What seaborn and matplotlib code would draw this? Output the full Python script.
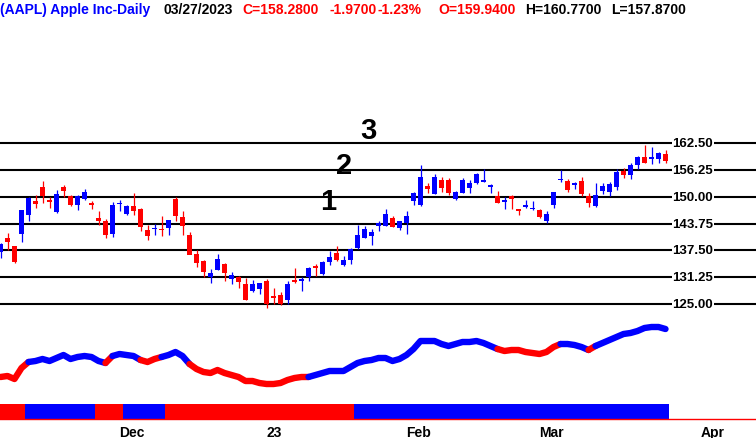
import matplotlib
matplotlib.use("Agg")
import matplotlib.pyplot as plt
import seaborn as sns
import pandas as pd

# AAPL daily bars, 2022-11-07 .. 2023-03-27
opens = [137.11, 140.41, 138.50, 141.24, 145.82, 148.97, 152.22, 149.13, 146.43, 152.31, 150.16, 148.13, 149.45, 148.31, 145.14, 144.29, 141.40,
         148.21, 145.96, 147.77, 147.07, 142.19, 142.36, 142.34, 142.70, 149.50, 145.35, 141.11, 136.69, 135.11, 131.39, 132.98, 134.35, 130.92, 131.38, 129.67, 127.99, 128.41,
         130.28, 126.89, 127.13, 126.01, 130.47, 130.26, 131.25, 133.88, 132.03, 134.83, 136.82, 134.08, 135.28, 138.12, 140.31, 140.89, 143.17, 143.16, 144.96, 142.70,
         143.97, 148.90, 148.03, 152.57, 150.64, 153.88, 153.78, 149.46, 150.95, 152.12, 153.11, 153.51, 152.35, 150.20, 148.87, 150.09, 147.11, 147.71, 147.05,
         146.83, 144.38, 148.04, 153.79, 153.70, 152.81, 153.56, 150.21, 147.81, 151.28, 151.19, 152.16, 156.08, 155.07, 157.32, 159.30, 158.83, 158.86, 159.94]
highs = [139.15, 141.43, 138.55, 146.87, 150.01, 150.28, 153.59, 149.87, 151.48, 152.70, 150.37, 150.42, 151.83, 148.88, 146.64, 144.81, 148.72,
         149.13, 148.00, 150.92, 147.30, 143.37, 143.52, 145.57, 144.50, 149.97, 146.66, 141.79, 137.65, 135.20, 133.25, 136.63, 134.56, 132.42, 131.41, 131.03, 130.48, 129.95,
         130.90, 128.66, 127.77, 130.29, 133.41, 131.26, 133.51, 134.26, 134.92, 137.29, 138.61, 136.25, 138.02, 143.32, 143.16, 142.43, 144.25, 147.23, 145.55, 144.34,
         146.61, 151.18, 157.38, 153.10, 155.23, 154.58, 154.33, 151.34, 154.26, 153.77, 155.50, 156.33, 153.00, 151.30, 149.95, 150.34, 147.19, 149.17, 149.08,
         147.23, 146.71, 151.11, 156.30, 154.03, 153.47, 154.54, 150.94, 153.14, 153.14, 153.47, 156.46, 156.74, 157.82, 159.40, 162.14, 161.55, 160.34, 160.77]
lows = [135.67, 137.49, 134.59, 139.50, 144.37, 147.43, 148.56, 147.29, 146.15, 149.97, 147.72, 146.93, 149.34, 147.12, 143.38, 140.35, 140.55,
        146.61, 145.65, 145.77, 141.92, 140.00, 141.10, 140.90, 141.06, 144.24, 141.16, 136.60, 133.73, 131.32, 129.89, 132.86, 130.30, 129.64, 128.72, 125.87, 127.73, 127.43,
        124.17, 125.08, 124.76, 124.89, 129.89, 128.12, 130.46, 131.44, 131.66, 134.13, 135.03, 133.77, 134.22, 137.90, 140.30, 138.81, 141.90, 143.08, 142.85, 142.28,
        141.32, 148.17, 147.83, 150.78, 150.64, 151.17, 150.42, 149.22, 150.92, 150.86, 152.88, 153.35, 150.85, 148.41, 147.16, 147.24, 145.72, 147.45, 146.83,
        145.01, 143.90, 147.33, 153.46, 151.13, 151.83, 150.23, 147.61, 147.70, 150.72, 150.10, 151.64, 154.28, 154.15, 156.54, 157.81, 157.68, 157.85, 157.87]
closes = [138.92, 139.50, 134.87, 146.87, 149.70, 148.28, 150.04, 148.79, 150.72, 151.29, 148.01, 150.18, 151.07, 148.11, 144.22, 141.17, 148.03,
          148.31, 147.81, 146.63, 142.91, 140.94, 142.65, 142.16, 144.49, 145.47, 143.21, 136.50, 134.51, 132.37, 132.30, 135.45, 132.23, 131.86, 130.03, 126.04, 129.61, 129.93,
          125.07, 126.36, 125.02, 129.62, 130.15, 130.73, 133.49, 133.41, 134.76, 135.94, 135.21, 135.27, 137.87, 141.11, 142.53, 141.86, 143.96, 145.93, 143.00, 144.29,
          145.43, 150.82, 154.50, 151.73, 154.65, 151.92, 150.87, 151.01, 153.85, 153.20, 155.33, 153.71, 152.55, 148.48, 148.91, 149.40, 146.71, 147.92, 147.41,
          145.31, 145.91, 151.03, 153.83, 151.60, 152.87, 150.59, 148.50, 150.47, 152.59, 152.99, 155.85, 155.00, 157.40, 159.28, 157.83, 158.93, 160.25, 158.28]

holidays = ["2022-11-24", "2022-12-26", "2023-01-02", "2023-01-16", "2023-02-20"]

# lower indicator line and its colour runs
trend = [22, 23, 20, 31, 37, 38, 40, 38, 41, 44,
         40, 42, 43, 42, 38, 36, 43, 45, 44, 43,
         39, 37, 40, 42, 44, 47, 43, 35, 30, 27,
         26, 29, 26, 24, 22, 18, 18, 16, 15, 15,
         16, 19, 21, 22, 22, 24, 26, 28, 28, 28,
         32, 36, 38, 39, 41, 41, 38, 40, 44, 50,
         58, 58, 58, 55, 53, 55, 57, 57, 58, 56,
         53, 50, 48, 49, 49, 47, 46, 45, 47, 52,
         55, 55, 54, 52, 49, 53, 56, 59, 62, 65,
         66, 68, 71, 72, 72, 70]
trend_runs = [("r", 4), ("b", 11), ("r", 1), ("b", 4), ("r", 3), ("b", 4),
              ("r", 17), ("b", 27), ("r", 9), ("b", 4), ("r", 1), ("b", 11)]
regime_runs = [("r", 4), ("b", 10), ("r", 4), ("b", 6), ("r", 27), ("b", 45)]

price_levels = [125.0, 131.25, 137.5, 143.75, 150.0, 156.25, 162.5]
wave_labels = ["1", "2", "3"]

header = [("(AAPL) Apple Inc-Daily", "b"), ("03/27/2023", "k"),
          ("C=158.2800", "r"), ("-1.9700", "r"), ("-1.23%", "r"),
          ("O=159.9400", "r"), ("H=160.7700", "k"), ("L=157.8700", "k")]

RED, BLUE = "#ff0000", "#0000ff"
cmap = {"r": RED, "b": BLUE, "k": "black"}

sns.set_style("white")
plt.rcParams['font.family'] = ['Liberation Sans', 'DejaVu Sans']
plt.rcParams['text.color'] = 'black'

# trading calendar (history skips holidays, future just business days)
days = pd.bdate_range("2022-11-07", "2023-04-14")
days = days[~days.isin(pd.to_datetime(holidays))]
n = len(closes)
idx = list(range(n))

W, H = 756, 439
fig = plt.figure(figsize=(W / 100, H / 100), dpi=100)
xlim = (-0.5 / 7, (W - 0.5) / 7)

# ---- price panel
ax1 = fig.add_axes([0, 1 - 320 / H, 1, 295 / H])
ax1.set_axis_off()
for lv in price_levels:
    ax1.axhline(lv, color="black", lw=1.5, zorder=1)
    ax1.text(96.0, lv, f"{lv:.2f}", ha="left", va="center", fontsize=9.5,
             fontweight="bold", color="black", zorder=5,
             bbox=dict(facecolor="white", edgecolor="none", pad=0.6))

cols = [BLUE if c >= o else RED for o, c in zip(opens, closes)]
ax1.vlines(idx, lows, highs, colors=cols, lw=0.9, zorder=3)
body_lo = [min(o, c) for o, c in zip(opens, closes)]
body_h = [max(abs(c - o), 0.4) for o, c in zip(opens, closes)]
ax1.bar(idx, body_h, bottom=body_lo, width=0.72, color=cols, linewidth=0, zorder=4)

for lab, (xi, yp) in zip(wave_labels, [(46.8, 149.0), (49.1, 157.4), (52.6, 165.5)]):
    ax1.text(xi, yp, lab, ha="center", va="center", fontsize=21,
             fontweight="bold", color="black")
ax1.set_xlim(*xlim)
ax1.set_ylim(121.506, 190.22)

# ---- indicator panel
ax2 = fig.add_axes([0, 1 - 400 / H, 1, 80 / H])
start = 0
for c, ln in trend_runs:
    end = min(start + ln, n - 1)
    xs = list(range(start, end + 1))
    sns.lineplot(x=xs, y=trend[start:end + 1], color=cmap[c], lw=4.6,
                 sort=False, legend=False, ax=ax2)
    start += ln
ax2.set_axis_off()
ax2.set_xlim(*xlim)
ax2.set_ylim(0, 80)

# ---- regime strip + date axis
ax3 = fig.add_axes([0, 1 - 420 / H, 1, 15 / H])
strip_cols = []
for c, ln in regime_runs:
    strip_cols += [cmap[c]] * ln
ax3.bar(idx, [1] * n, bottom=0, width=1.0, color=strip_cols, linewidth=0)
for s in ["top", "left", "right"]:
    ax3.spines[s].set_visible(False)
ax3.spines["bottom"].set_color(RED)
ax3.spines["bottom"].set_linewidth(1)
ax3.set_yticks([])

month_idx, month_lab, week_idx = [], [], []
for i, d in enumerate(days):
    if i > 0 and d.month != days[i - 1].month:
        month_idx.append(i)
        month_lab.append(d.strftime("%y") if d.month == 1 else d.strftime("%b"))
    elif d.weekday() == 0:
        week_idx.append(i)
ax3.set_xticks(month_idx)
ax3.set_xticklabels(month_lab, ha="left", fontsize=10, fontweight="bold", color="black")
ax3.set_xticks(week_idx, minor=True)
ax3.tick_params(axis="x", which="major", length=4, width=0.8, color=RED, pad=0)
ax3.tick_params(axis="x", which="minor", length=2.8, width=0.8, color=RED)
ax3.set_xlim(*xlim)
ax3.set_ylim(0, 1)

# ---- header line
xs_head = [0, 163, 242, 330, 377, 438, 525, 611]
for (txt, col), xp in zip(header, xs_head):
    fig.text(xp / W, 1 - 10 / H, txt, color=cmap[col],
             fontsize=10, fontweight="bold", ha="left", va="center")

fig.savefig("out.png", dpi=100, facecolor="white")
